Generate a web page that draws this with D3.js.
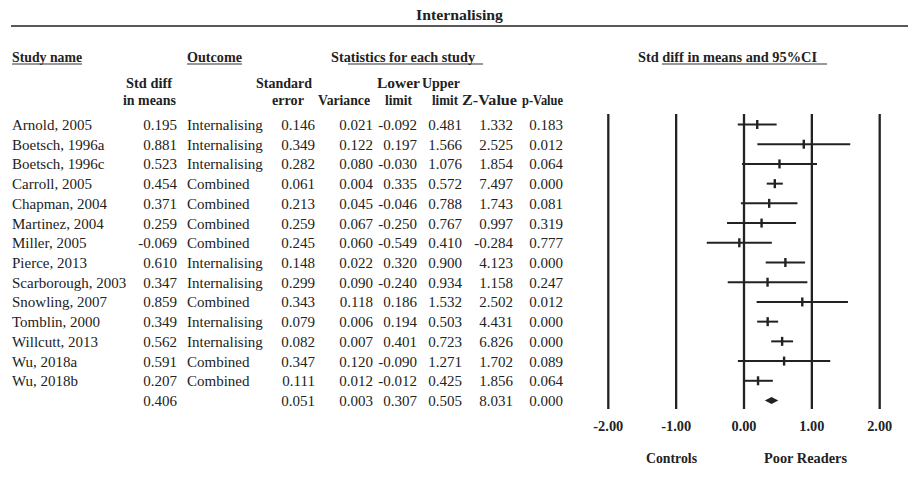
<!DOCTYPE html>
<html>
<head>
<meta charset="utf-8">
<script src="https://cdn.jsdelivr.net/npm/d3@7"></script>
<style>
  body { margin: 0; background: #fff; }
  svg text { font-family: "Liberation Serif", "DejaVu Serif", serif; fill: #222; font-size: 15px; }
  .hd { font-weight: bold; font-size: 14px; }
</style>
</head>
<body>
<svg id="chart" width="908" height="491"></svg>
<script>
// Study data
var studies = ["Arnold, 2005", "Boetsch, 1996a", "Boetsch, 1996c", "Carroll, 2005", "Chapman, 2004",
    "Martinez, 2004", "Miller, 2005", "Pierce, 2013", "Scarborough, 2003", "Snowling, 2007",
    "Tomblin, 2000", "Willcutt, 2013", "Wu, 2018a", "Wu, 2018b", ""];
var outcomes = ["Internalising", "Internalising", "Internalising", "Combined", "Combined",
    "Combined", "Combined", "Internalising", "Internalising", "Combined",
    "Internalising", "Internalising", "Combined", "Combined", ""];
var stdDiff = [0.195, 0.881, 0.523, 0.454, 0.371, 0.259, -0.069, 0.610, 0.347, 0.859, 0.349, 0.562, 0.591, 0.207, 0.406];
var stdErr = [0.146, 0.349, 0.282, 0.061, 0.213, 0.259, 0.245, 0.148, 0.299, 0.343, 0.079, 0.082, 0.347, 0.111, 0.051];
var variance = [0.021, 0.122, 0.080, 0.004, 0.045, 0.067, 0.060, 0.022, 0.090, 0.118, 0.006, 0.007, 0.120, 0.012, 0.003];
var lower = [-0.092, 0.197, -0.030, 0.335, -0.046, -0.250, -0.549, 0.320, -0.240, 0.186, 0.194, 0.401, -0.090, -0.012, 0.307];
var upper = [0.481, 1.566, 1.076, 0.572, 0.788, 0.767, 0.410, 0.900, 0.934, 1.532, 0.503, 0.723, 1.271, 0.425, 0.505];
var zValue = [1.332, 2.525, 1.854, 7.497, 1.743, 0.997, -0.284, 4.123, 1.158, 2.502, 4.431, 6.826, 1.702, 1.856, 8.031];
var pValue = [0.183, 0.012, 0.064, 0.000, 0.081, 0.319, 0.777, 0.000, 0.247, 0.012, 0.000, 0.000, 0.089, 0.064, 0.000];
var ticks = [-2, -1, 0, 1, 2];

var svg = d3.select("#chart");
// plain hyphen for negatives, like the original table
var locale = d3.formatLocale({ decimal: ".", thousands: ",", grouping: [3], currency: ["", ""], minus: "-" });
var fmt = locale.format(".3f");
var fmt2 = locale.format(".2f");

var rows = d3.range(studies.length);
var y = d3.scaleLinear().domain([0, studies.length - 1]).range([124.5, 400.5]);
var x = d3.scaleLinear().domain([-2, 2]).range([608.3, 879.7]);

// bold header text squeezed to the width it has in the original
function head(t, x0, yb, w) {
    return svg.append("text").attr("class", "hd")
        .attr("x", x0).attr("y", yb)
        .attr("textLength", w).attr("lengthAdjust", "spacingAndGlyphs")
        .text(t);
}

// title and top rule
head("Internalising", 416, 20, 87);
svg.append("line").attr("x1", 11).attr("x2", 908).attr("y1", 26).attr("y2", 26)
    .style("stroke", "#222").style("stroke-width", 1.6);

// group headers
var groupHeads = [
    { t: "Study name", x: 12, w: 70, ux1: 12, ux2: 82 },
    { t: "Outcome", x: 187, w: 55, ux1: 187, ux2: 242 },
    { t: "Statistics for each study", x: 331, w: 144, ux1: 348, ux2: 483 },
    { t: "Std diff in means and 95%CI", x: 638, w: 179, ux1: 662, ux2: 827 }
];
groupHeads.forEach(function(h) {
    head(h.t, h.x, 61.5, h.w);
    svg.append("line").attr("x1", h.ux1).attr("x2", h.ux2).attr("y1", 64).attr("y2", 64)
        .style("stroke", "#333").style("stroke-width", 1.2);
});

// column headers: [text, left x, width] for each of the two lines
var colHeads1 = [["Std diff", 126, 46], ["Standard", 256, 56], ["Lower", 377, 43], ["Upper", 422, 38]];
var colHeads2 = [["in means", 123, 53], ["error", 272, 32], ["Variance", 318, 52], ["limit", 385, 27],
    ["limit", 432, 26], ["Z-Value", 462, 55], ["p-Value", 522, 41]];
colHeads1.forEach(function(c) { head(c[0], c[1], 88, c[2]); });
colHeads2.forEach(function(c) { head(c[0], c[1], 105, c[2]); });

// table body
var cols = [
    { vals: studies, x: 12, anchor: "start", raw: true },
    { vals: stdDiff, x: 177, anchor: "end" },
    { vals: outcomes, x: 187, anchor: "start", raw: true },
    { vals: stdErr, x: 315, anchor: "end" },
    { vals: variance, x: 373, anchor: "end" },
    { vals: lower, x: 417, anchor: "end" },
    { vals: upper, x: 462, anchor: "end" },
    { vals: zValue, x: 513, anchor: "end" },
    { vals: pValue, x: 563, anchor: "end" }
];
cols.forEach(function(c) {
    svg.append("g").selectAll("text")
        .data(rows)
        .enter().append("text")
        .attr("x", c.x)
        .attr("y", function(i) { return y(i) + 5.5; })
        .attr("text-anchor", c.anchor)
        .text(function(i) { return c.raw ? c.vals[i] : fmt(c.vals[i]); });
});

// vertical reference lines
svg.append("g").selectAll("line")
    .data(ticks)
    .enter().append("line")
    .attr("x1", function(d) { return x(d); })
    .attr("x2", function(d) { return x(d); })
    .attr("y1", 114).attr("y2", 409)
    .style("stroke", "#222").style("stroke-width", 2.3);

// tick labels
svg.append("g").selectAll("text")
    .data(ticks)
    .enter().append("text")
    .attr("class", "hd")
    .attr("x", function(d) { return x(d); })
    .attr("y", 431)
    .attr("text-anchor", "middle")
    .attr("textLength", function(d) { return d < 0 ? 30 : 25; })
    .attr("lengthAdjust", "spacingAndGlyphs")
    .text(function(d) { return fmt2(d); });

head("Controls", 646, 463, 51);
head("Poor Readers", 764, 463, 83);

// confidence intervals for studies
var studyRows = rows.slice(0, rows.length - 1);
var ci = svg.append("g");
ci.selectAll("line.ci")
    .data(studyRows)
    .enter().append("line")
    .attr("class", "ci")
    .attr("x1", function(i) { return x(lower[i]); })
    .attr("x2", function(i) { return x(upper[i]); })
    .attr("y1", function(i) { return y(i); })
    .attr("y2", function(i) { return y(i); })
    .style("stroke", "#222").style("stroke-width", 2);
ci.selectAll("line.pt")
    .data(studyRows)
    .enter().append("line")
    .attr("class", "pt")
    .attr("x1", function(i) { return x(stdDiff[i]); })
    .attr("x2", function(i) { return x(stdDiff[i]); })
    .attr("y1", function(i) { return y(i) - 4.5; })
    .attr("y2", function(i) { return y(i) + 4.5; })
    .style("stroke", "#222").style("stroke-width", 2.4);

// summary diamond
var s = rows.length - 1;
svg.append("path")
    .attr("d", "M" + x(lower[s]) + "," + y(s) +
        "L" + x(stdDiff[s]) + "," + (y(s) - 3.5) +
        "L" + x(upper[s]) + "," + y(s) +
        "L" + x(stdDiff[s]) + "," + (y(s) + 3.5) + "Z")
    .style("fill", "#222");
</script>
</body>
</html>
